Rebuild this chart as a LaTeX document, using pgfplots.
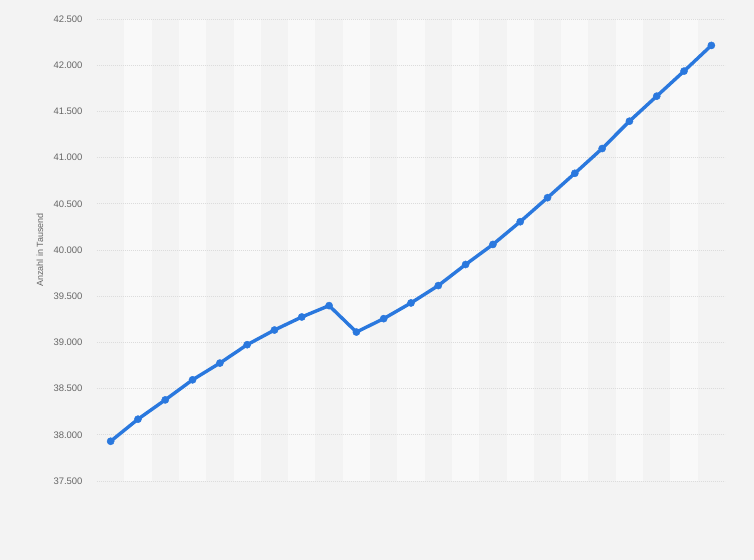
\documentclass[border=0pt]{standalone}
\usepackage{pgfplots}
\pgfplotsset{compat=1.18}
\usepackage{fontspec}
\setmainfont{Liberation Sans}
\definecolor{bgcol}{HTML}{F3F3F3}
\definecolor{bandcol}{HTML}{F9F9F9}
\definecolor{gridcol}{HTML}{DCDCDC}
\definecolor{labelcol}{HTML}{666666}
\definecolor{linecol}{HTML}{2A78DE}

\begin{document}
\begin{tikzpicture}
% page background, 754 x 560
\fill[bgcol] (-97bp,-79bp) rectangle (657bp,481bp);
% alternating column bands (odd categories lighter), one category = 628/23 bp wide
\foreach \i in {1,3,...,21} {
  \fill[bandcol] ({\i*27.3043bp},0) rectangle ({(\i+1)*27.3043bp},462bp);
}
\begin{axis}[
    at={(0,0)}, anchor=south west,
    scale only axis,
    width=628bp, height=462bp,
    xmin=-0.5, xmax=22.5,
    ymin=37500, ymax=42500,
    ytick={37500,38000,38500,39000,39500,40000,40500,41000,41500,42000,42500},
    scaled y ticks=false,
    xtick=\empty,
    axis line style={draw=none},
    major tick length=0pt,
    ymajorgrids,
    grid style={gridcol, line width=0.8bp, dash pattern=on 1bp off 1bp},
    yticklabel style={font=\fontsize{9.5}{11}\selectfont, text=labelcol, anchor=east, xshift=-11bp},
    /pgf/number format/.cd, fixed, precision=0, 1000 sep={.}, assume math mode=true,
    /pgfplots/.cd,
    ylabel={Anzahl in Tausend},
    every axis y label/.style={at={([xshift=-57bp]axis description cs:0,0.5)}, rotate=90, anchor=center,
        font=\fontsize{9}{11}\selectfont, text=labelcol},
]
\addplot[linecol, line width=3.4bp, mark=*, mark size=3.6bp, mark options={solid, fill=linecol, draw=linecol, line width=0.4bp}] coordinates {
    (0, 37930) (1, 38169) (2, 38378) (3, 38595) (4, 38776)
    (5, 38975) (6, 39134) (7, 39275) (8, 39398) (9, 39112)
    (10, 39257) (11, 39427) (12, 39615) (13, 39843) (14, 40060)
    (15, 40306) (16, 40566) (17, 40830) (18, 41098) (19, 41394)
    (20, 41665) (21, 41936) (22, 42214)
};
\end{axis}
\end{tikzpicture}
\end{document}
